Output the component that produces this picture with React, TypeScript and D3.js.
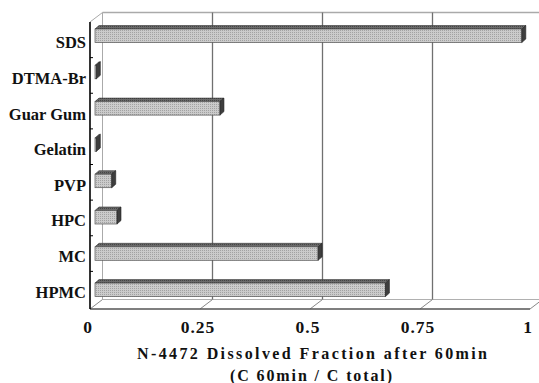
import React from "react";
import * as d3 from "d3";

// Dissolved fraction of N-4472 after 60 min for each additive
const categories = ["SDS", "DTMA-Br", "Guar Gum", "Gelatin", "PVP", "HPC", "MC", "HPMC"];
const fractions = [0.97, 0.003, 0.284, 0.003, 0.038, 0.05, 0.507, 0.66];
const xTicks = [0, 0.25, 0.5, 0.75, 1];
const xTickLabels = ["0", "0.25", "0.5", "0.75", "1"];
const titleLines = ["N-4472  Dissolved  Fraction  after  60min", "(C 60min / C total)"];

const W = 539;
const H = 383;
const FONT = "'Liberation Serif', 'Times New Roman', serif";

// oblique 3D offset of the back wall relative to the front plane
const DX = 12.5;
const DY = -9.5;
const TOP = 22;
const FLOOR = 309;

// bar placement inside the depth
const BAR_Z0 = 0.4;
const BAR_DX = 4;
const BAR_DY = -3.5;
const BAR_H = 13.5;

export default function App() {
  const x = d3.scaleLinear().domain([0, 1]).range([90, 530]);
  const yAxis = d3.scaleBand<string>().domain(categories).range([TOP, FLOOR - 2]);
  const yBar = d3.scaleBand<string>().domain(categories).range([17.6, 308]);

  const backX = (v: number) => x(v) + DX;
  const backTop = TOP + DY;
  const backFloor = FLOOR + DY;

  return (
    <svg
      width={W}
      height={H}
      style={{ position: "absolute", left: 0, top: 0, background: "#fff" }}
      fontFamily={FONT}
    >
      <defs>
        <pattern id="dotFront" width="2" height="2" patternUnits="userSpaceOnUse">
          <rect width="2" height="2" fill="#cbcbcb" />
          <rect width="1" height="1" fill="#a2a2a2" />
        </pattern>
        <pattern id="dotTop" width="2" height="2" patternUnits="userSpaceOnUse">
          <rect width="2" height="2" fill="#6a6a6a" />
          <rect width="1" height="1" fill="#454545" />
        </pattern>
      </defs>

      {/* back wall edges */}
      <line x1={backX(0)} y1={backTop} x2={W} y2={backTop} stroke="#aaa" strokeWidth={1.3} />
      <line x1={backX(0)} y1={backTop} x2={backX(0)} y2={backFloor} stroke="#aaa" strokeWidth={1} />
      <line x1={x(0)} y1={TOP} x2={backX(0)} y2={backTop} stroke="#aaa" strokeWidth={1} />
      <line x1={backX(0)} y1={backFloor} x2={backX(1)} y2={backFloor} stroke="#b0b0b0" strokeWidth={1} />

      {/* vertical gridlines on the back wall, continued across the floor */}
      {xTicks.map((t) => (
        <g key={`g${t}`}>
          {t > 0 && t < 1 && (
            <line x1={backX(t)} y1={backTop} x2={backX(t)} y2={backFloor} stroke="#707070" strokeWidth={1.3} />
          )}
          <line x1={backX(t)} y1={backFloor} x2={x(t)} y2={FLOOR} stroke="#888" strokeWidth={1} />
        </g>
      ))}

      {/* front floor edge */}
      <line x1={x(0)} y1={FLOOR} x2={x(1)} y2={FLOOR} stroke="#555" strokeWidth={1.3} />

      {/* bars */}
      {categories.map((c, i) => {
        const v = fractions[i];
        const cy = (yBar(c) as number) + yBar.bandwidth() / 2;
        const yt = cy - BAR_H / 2;
        const yb = cy + BAR_H / 2;
        const x0 = x(0) + DX * BAR_Z0;
        const x1 = x(v) + DX * BAR_Z0;
        const top = `M${x0},${yt} L${x1},${yt} L${x1 + BAR_DX},${yt + BAR_DY} L${x0 + BAR_DX},${yt + BAR_DY} Z`;
        const side = `M${x1},${yt} L${x1 + BAR_DX},${yt + BAR_DY} L${x1 + BAR_DX},${yb + BAR_DY} L${x1},${yb} Z`;
        return (
          <g key={c}>
            <path d={top} fill="url(#dotTop)" stroke="#333" strokeWidth={0.6} />
            <rect x={x0} y={yt} width={Math.max(0, x1 - x0)} height={BAR_H} fill="url(#dotFront)" stroke="#555" strokeWidth={0.7} />
            <path d={side} fill="#3e3e3e" stroke="#222" strokeWidth={0.6} />
          </g>
        );
      })}

      {/* category axis */}
      <line x1={x(0)} y1={TOP} x2={x(0)} y2={FLOOR} stroke="#000" strokeWidth={1.6} />
      {categories.map((c, i) =>
        i > 0 ? (
          <line key={`t${c}`} x1={x(0)} x2={x(0) + 3} y1={yAxis(c) as number} y2={yAxis(c) as number} stroke="#000" strokeWidth={1} />
        ) : null
      )}
      {categories.map((c) => (
        <text
          key={`l${c}`}
          x={86}
          y={(yAxis(c) as number) + yAxis.bandwidth() / 2 + 8.5}
          textAnchor="end"
          fontSize={16.5}
          fontWeight="bold"
          fill="#111"
        >
          {c}
        </text>
      ))}

      {/* value axis labels */}
      {xTicks.map((t, i) => (
        <text key={`x${t}`} x={x(t) - 2} y={333} textAnchor="middle" fontSize={17.5} fontWeight="bold" letterSpacing={1} fill="#111">
          {xTickLabels[i]}
        </text>
      ))}

      {/* axis title */}
      <text x={312} y={359} textAnchor="middle" fontSize={16} fontWeight="bold" fill="#111" textLength={350} lengthAdjust="spacing">
        {titleLines[0]}
      </text>
      <text x={311} y={381} textAnchor="middle" fontSize={16} fontWeight="bold" fill="#111" textLength={162} lengthAdjust="spacing">
        {titleLines[1]}
      </text>
    </svg>
  );
}
